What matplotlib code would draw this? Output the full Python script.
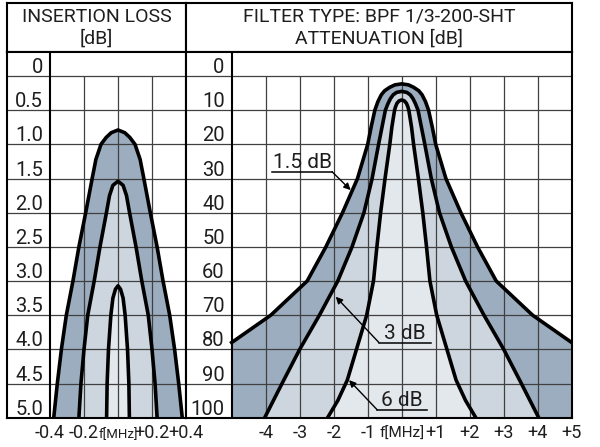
# filter chart: insertion loss and attenuation of BPF 1/3-200-SHT

import matplotlib.pyplot as plt
import numpy as np

plt.rcParams['font.family'] = ['Roboto', 'DejaVu Sans']

# ---- insertion loss panel: loss [dB] vs half width [MHz] of the three curves
il_a_loss = [0.79, 0.83, 0.9, 1.0, 1.22, 1.5, 2.0, 2.5, 3.0, 3.5, 4.0, 4.5, 5.0]
il_a_hw = [0.0, 0.04, 0.07, 0.1, 0.13, 0.152, 0.19, 0.23, 0.265, 0.304, 0.333, 0.357, 0.378]
il_b_loss = [1.54, 1.6, 1.75, 2.0, 2.5, 3.0, 3.5, 4.0, 4.5, 5.0]
il_b_hw = [0.0, 0.03, 0.05, 0.068, 0.106, 0.14, 0.178, 0.2, 0.218, 0.23]
il_c_loss = [3.07, 3.12, 3.25, 3.5, 4.0, 4.5, 5.0]
il_c_hw = [0.0, 0.015, 0.03, 0.042, 0.056, 0.064, 0.067]

il_ticks = [-0.4, -0.2, 0, 0.2, 0.4]
il_ticklabels = ['-0.4', '-0.2', 'f[MHz]', '+0.2', '+0.4']
il_rows = [0, 0.5, 1.0, 1.5, 2.0, 2.5, 3.0, 3.5, 4.0, 4.5, 5.0]
il_rowlabels = ['0', '0.5', '1.0', '1.5', '2.0', '2.5', '3.0', '3.5', '4.0', '4.5', '5.0']

# ---- attenuation panel: attenuation [dB] vs half width [MHz]
att15 = [2.3, 2.6, 3.3, 4.3, 5.5, 7.5, 10, 15, 20, 30, 40, 50, 60, 70, 78]
hw15 = [0.0, 0.2, 0.35, 0.5, 0.6, 0.7, 0.79, 0.9, 1.0, 1.3, 1.74, 2.23, 2.78, 3.85, 5.0]
att3 = [4.5, 4.8, 5.5, 6.6, 8.0, 10, 15, 20, 30, 40, 50, 60, 70, 80, 90, 100]
hw3 = [0.0, 0.15, 0.25, 0.33, 0.4, 0.48, 0.58, 0.68, 0.87, 1.11, 1.46, 1.88, 2.42, 3.0, 3.52, 4.03]
att6 = [7.0, 7.3, 8.0, 9.0, 10, 15, 20, 30, 40, 50, 60, 70, 80, 89, 95, 100]
hw6 = [0.0, 0.08, 0.14, 0.18, 0.21, 0.29, 0.35, 0.49, 0.62, 0.73, 0.83, 1.03, 1.33, 1.6, 1.88, 2.18]

att_ticks = [-4, -3, -2, -1, 0, 1, 2, 3, 4, 5]
att_ticklabels = ['-4', '-3', '-2', '-1', 'f[MHz]', '+1', '+2', '+3', '+4', '+5']
att_rows = [0, 10, 20, 30, 40, 50, 60, 70, 80, 90, 100]
att_rowlabels = ['0', '10', '20', '30', '40', '50', '60', '70', '80', '90', '100']

DARK = '#9badbf'
MID = '#cdd6df'
LIGHT = '#e3e8ed'
GRID = '#404040'
TXT = '#1e1e1e'

W, H = 600, 447
TOP, HDR, ROW0, BOT = 3.3, 51.7, 76.0, 417.7

fig = plt.figure(figsize=(6, 4.47), dpi=100)


def box(x0, y0, x1, y1):
    return [x0 / W, 1 - y1 / H, (x1 - x0) / W, (y1 - y0) / H]


def curve(hw, a):
    hw = np.asarray(hw)
    a = np.asarray(a)
    return np.r_[-hw[::-1], hw[1:]], np.r_[a[::-1], a[1:]]


def panel(x0, xs, x1, fmin, fmax, ticks, ticklabels, rows, rowlabels, title, fsize):
    hdr = fig.add_axes(box(x0, TOP, x1, HDR))
    hdr.set_xticks([])
    hdr.set_yticks([])
    for s in hdr.spines.values():
        s.set_linewidth(1.5)
    hdr.text(0.5, 0.72, title[0], ha='center', va='center', fontsize=14,
             color=TXT, transform=hdr.transAxes)
    hdr.text(0.5, 0.27, title[1], ha='center', va='center', fontsize=14,
             color=TXT, transform=hdr.transAxes)

    amax = rows[-1]
    ax = fig.add_axes(box(x0, HDR, x1, BOT))
    sx = (x1 - xs) / (fmax - fmin)
    sy = (BOT - ROW0) / amax
    xlo = fmin - (xs - x0) / sx
    ax.set_xlim(xlo, fmax)
    ax.set_ylim(amax, -(ROW0 - HDR) / sy)
    for s in ax.spines.values():
        s.set_linewidth(1.5)
        s.set_zorder(5)
    ax.set_yticks([])
    ax.set_xticks(ticks, ticklabels)
    ax.tick_params(axis='x', length=0, pad=14.5, labelsize=13, labelcolor=TXT)
    for lbl in ax.get_xticklabels():
        lbl.set_va('baseline')
        if lbl.get_text() == 'f[MHz]':
            lbl.set_fontsize(fsize)

    ax.hlines(rows[:-1], xlo, fmax, color=GRID, lw=0.9, zorder=2)
    ax.vlines([t for t in ticks if fmin < t < fmax], 0, amax, color=GRID, lw=0.9, zorder=2)
    ax.axvline(fmin, color='black', lw=1.5, zorder=5)
    for v, lab in zip(rows, rowlabels):
        ax.text(fmin - 7 / sx, v - 3 / sy, lab, ha='right', va='baseline',
                fontsize=14.5, color=TXT)
    return ax


# ---- left panel
ax_l = panel(7, 50, 186, -0.4, 0.4, il_ticks, il_ticklabels, il_rows, il_rowlabels,
             ['INSERTION LOSS', '[dB]'], 9.5)
for hw, loss, col in [(il_a_hw, il_a_loss, DARK), (il_b_hw, il_b_loss, MID),
                      (il_c_hw, il_c_loss, LIGHT)]:
    f, a = curve(hw, loss)
    ax_l.fill_between(f, a, 5.0, color=col, lw=0, zorder=1)
for hw, loss in [(il_a_hw, il_a_loss), (il_b_hw, il_b_loss), (il_c_hw, il_c_loss)]:
    f, a = curve(hw, loss)
    ax_l.plot(f, a, color='black', lw=2.6, solid_joinstyle='round', zorder=3)

# ---- right panel
ax_r = panel(186, 231.7, 571.7, -5, 5, att_ticks, att_ticklabels, att_rows, att_rowlabels,
             ['FILTER TYPE: BPF 1/3-200-SHT', 'ATTENUATION [dB]'], 11)
for hw, att, col in [(hw15, att15, DARK), (hw3, att3, MID), (hw6, att6, LIGHT)]:
    f, a = curve(hw, att)
    ax_r.fill_between(f, a, 100, color=col, lw=0, zorder=1)
for hw, att in [(hw15, att15), (hw3, att3), (hw6, att6)]:
    f, a = curve(hw, att)
    ax_r.plot(f, a, color='black', lw=2.6, solid_joinstyle='round', zorder=3)

# curve labels: text, underline (x0, x1, y), arrow start, arrow tip, text x
notes = [
    ('1.5 dB', (-3.82, -2.05, 28.0), (-2.05, 28.0), (-1.5, 33.4), -3.78),
    ('3 dB', (-0.67, 0.85, 78.0), (-0.67, 78.0), (-1.94, 64.6), -0.52),
    ('6 dB', (-0.72, 0.75, 97.7), (-0.72, 97.7), (-1.55, 89.0), -0.62),
]
for txt, (u0, u1, uy), start, tip, tx in notes:
    ax_r.plot([u0, u1], [uy, uy], color='black', lw=1.1, zorder=4)
    ax_r.annotate('', xy=tip, xytext=start, zorder=4,
                  arrowprops=dict(arrowstyle='-|>', color='black', lw=1.0,
                                  mutation_scale=10, shrinkA=0, shrinkB=0))
    ax_r.text(tx, uy - 1.0, txt, ha='left', va='baseline', fontsize=15,
              color=TXT, zorder=4)

fig.savefig('out.png', dpi=100)
